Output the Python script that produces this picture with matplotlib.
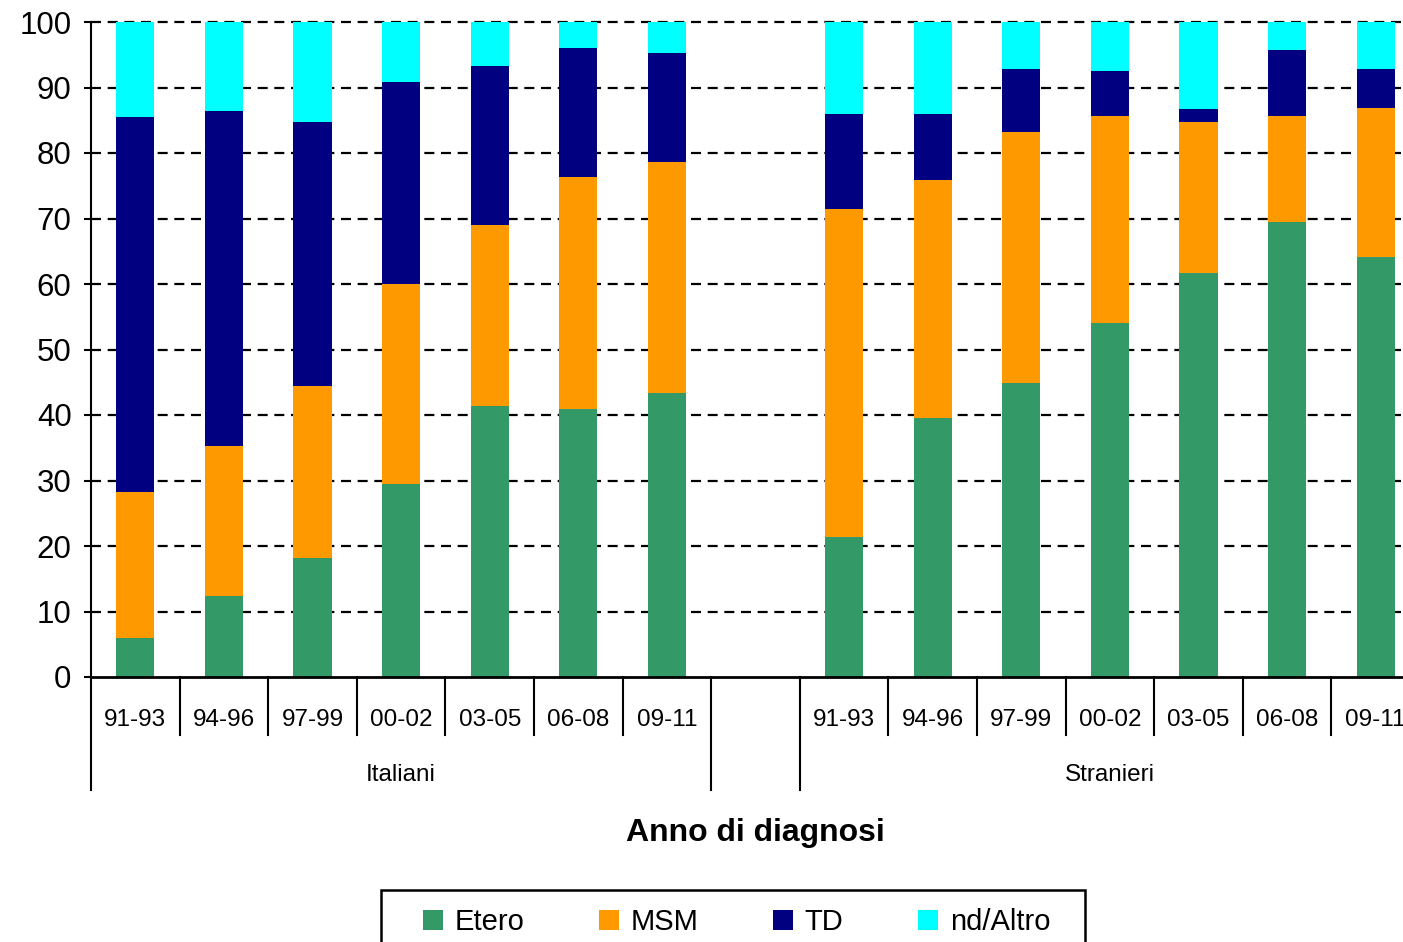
import numpy as np
import matplotlib
matplotlib.use("Agg")
import matplotlib.pyplot as plt
from matplotlib.patches import Patch, Rectangle

plt.rcParams['font.family'] = ['Liberation Sans', 'DejaVu Sans']

# Dati (percentuali per modalità di trasmissione)
periodi = ["91-93", "94-96", "97-99", "00-02", "03-05", "06-08", "09-11"]
gruppi = ["Italiani", "Stranieri"]
serie = ["Etero", "MSM", "TD", "nd/Altro"]
colori = ["#339966", "#FF9900", "#000080", "#00FFFF"]

ita_etero = [5.9, 12.4, 18.1, 29.5, 41.3, 40.9, 43.4]
ita_msm = [22.3, 22.8, 26.4, 30.5, 27.7, 35.4, 35.3]
ita_td = [57.3, 51.2, 40.2, 30.8, 24.3, 19.8, 16.6]
ita_altro = [14.5, 13.6, 15.3, 9.2, 6.7, 3.9, 4.7]

str_etero = [21.4, 39.6, 44.9, 54.0, 61.7, 69.4, 64.1]
str_msm = [50.0, 36.3, 38.3, 31.6, 23.1, 16.2, 22.8]
str_td = [14.6, 10.1, 9.6, 6.9, 1.9, 10.1, 5.9]
str_altro = [14.0, 14.0, 7.2, 7.5, 13.3, 4.3, 7.2]

W, H = 1403, 942
fig = plt.figure(figsize=(W / 100, H / 100), dpi=100)
# asse: sinistra 91px, fondo 677px, alto 22px, larghezza 15 slot (esce dal bordo)
ax = fig.add_axes([91 / W, (H - 677) / H, 1329 / W, 655 / H])

n = len(periodi)
x_ita = np.arange(n)
x_str = np.arange(n) + n + 1
larg = 0.43

for xs, valori in [(x_ita, [ita_etero, ita_msm, ita_td, ita_altro]),
                   (x_str, [str_etero, str_msm, str_td, str_altro])]:
    base = np.zeros(n)
    for v, c in zip(valori, colori):
        ax.bar(xs, v, larg, bottom=base, color=c, edgecolor='none', zorder=3)
        base += np.array(v)

ax.set_xlim(-0.5, 2 * n + 0.5)
ax.set_ylim(0, 100)

# griglia tratteggiata
for yv in range(10, 101, 10):
    ax.axhline(yv, color='black', lw=1.6, linestyle=(0, (4.5, 3)), zorder=1, clip_on=False)

for s in ['top', 'right']:
    ax.spines[s].set_visible(False)
ax.spines['left'].set_linewidth(1.5)
ax.spines['bottom'].set_linewidth(2)
ax.spines['bottom'].set_zorder(4)

ax.set_yticks(range(0, 101, 10))
ax.tick_params(axis='y', length=5, width=1.5, labelsize=22.5, pad=9)

ax.set_xticks(list(x_ita) + list(x_str))
ax.set_xticklabels(periodi + periodi)
ax.tick_params(axis='x', length=0, labelsize=17.5, pad=23)

# separatori sotto l'asse
trans = ax.get_xaxis_transform()
for k in list(np.arange(n + 1) - 0.5) + list(np.arange(n + 1) + n + 0.5):
    lungo = k in (-0.5, n - 0.5, n + 0.5, 2 * n + 0.5)
    ax.plot([k, k], [0, -0.1725 if lungo else -0.0885], color='black', lw=1.5,
            transform=trans, clip_on=False)

ax.text(3, -0.15, gruppi[0], transform=trans, ha='center', va='center', fontsize=17.5)
ax.text(n + 1 + 3, -0.15, gruppi[1], transform=trans, ha='center', va='center', fontsize=17.5)
ax.text(n, -0.238, "Anno di diagnosi", transform=trans, ha='center', va='center',
        fontsize=23, fontweight='bold')

# legenda con cornice disegnata a parte
handles = [Patch(facecolor=c, edgecolor='none', label=s) for s, c in zip(serie, colori)]
fig.legend(handles=handles, loc='upper left', bbox_to_anchor=(423 / W, (H - 908) / H),
           ncol=4, fontsize=21, frameon=False, borderpad=0, borderaxespad=0,
           handlelength=0.68, handleheight=0.68, handletextpad=0.41, columnspacing=2.55)
fig.patches.append(Rectangle((381 / W, -0.02), 704 / W, (H - 890) / H + 0.02,
                             transform=fig.transFigure, fill=False, edgecolor='black',
                             linewidth=1.8, clip_on=False))

fig.savefig("out.png", dpi=100)
